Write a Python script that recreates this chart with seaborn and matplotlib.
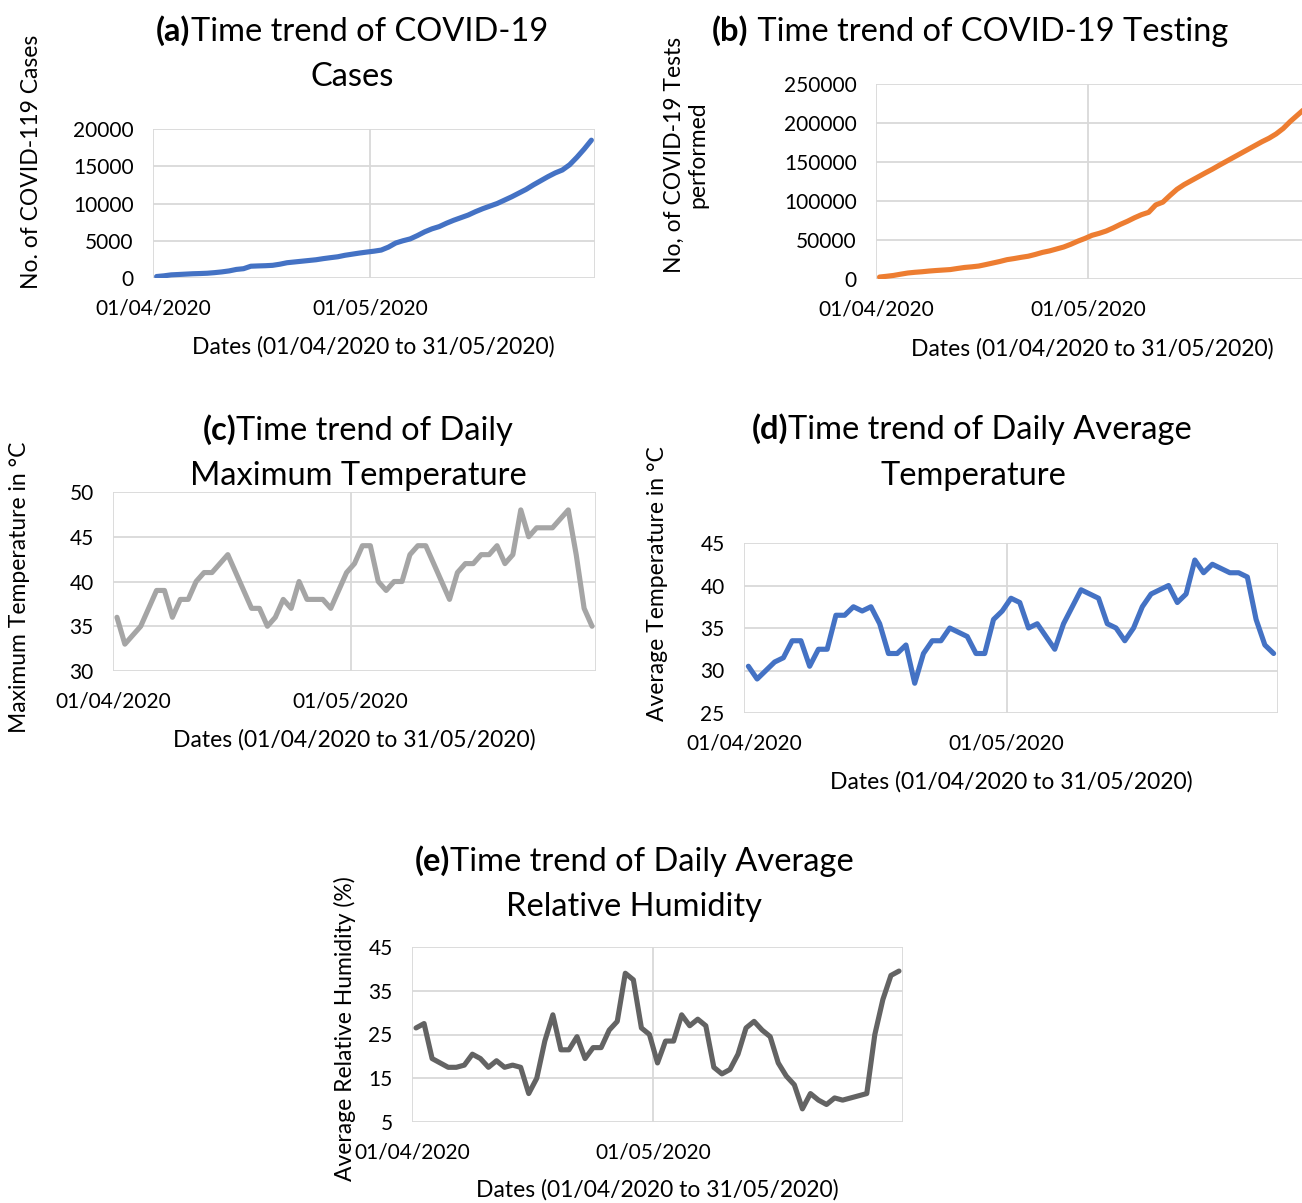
import matplotlib
matplotlib.use("Agg")
import matplotlib.pyplot as plt
import seaborn as sns
import pandas as pd

# one point per day, 01/04/2020 .. 31/05/2020 (Excel date axis puts each day mid-slot)
dates = pd.date_range("2020-04-01 12:00", periods=61, freq="D")

cases = [200, 290, 420, 470, 520, 570, 600, 640, 720, 820,
         950, 1150, 1250, 1580, 1620, 1650, 1700, 1850, 2050, 2150,
         2250, 2350, 2450, 2600, 2730, 2850, 3050, 3200, 3350, 3480,
         3600, 3750, 4150, 4700, 5000, 5250, 5700, 6200, 6600, 6900,
         7350, 7750, 8100, 8450, 8900, 9300, 9650, 10000, 10450, 10900,
         11400, 11900, 12500, 13050, 13600, 14100, 14500, 15200, 16200, 17300,
         18500]

tests = [2500, 3500, 4600, 6200, 7700, 8600, 9300, 10200, 10900, 11500,
         12100, 13500, 14800, 15600, 16600, 18500, 20500, 22500, 24800, 26200,
         27800, 29200, 31500, 34100, 36000, 38500, 41000, 44500, 48500, 52000,
         56000, 58500, 61500, 65500, 70000, 74000, 78500, 82500, 85500, 95000,
         98500, 107000, 115000, 121000, 126000, 131000, 136000, 140800, 146000, 151000,
         156000, 161000, 166000, 171000, 176000, 180500, 186000, 193000, 202000, 210000,
         218000]

max_temp = [36, 33, 34, 35, 37, 39, 39, 36, 38, 38,
            40, 41, 41, 42, 43, 41, 39, 37, 37, 35,
            36, 38, 37, 40, 38, 38, 38, 37, 39, 41,
            42, 44, 44, 40, 39, 40, 40, 43, 44, 44,
            42, 40, 38, 41, 42, 42, 43, 43, 44, 42,
            43, 48, 45, 46, 46, 46, 47, 48, 43, 37,
            35]

avg_temp = [30.5, 29, 30, 31, 31.5, 33.5, 33.5, 30.5, 32.5, 32.5,
            36.5, 36.5, 37.5, 37, 37.5, 35.5, 32, 32, 33, 28.5,
            32, 33.5, 33.5, 35, 34.5, 34, 32, 32, 36, 37,
            38.5, 38, 35, 35.5, 34, 32.5, 35.5, 37.5, 39.5, 39,
            38.5, 35.5, 35, 33.5, 35, 37.5, 39, 39.5, 40, 38,
            39, 43, 41.5, 42.5, 42, 41.5, 41.5, 41, 36, 33,
            32]

humidity = [26.5, 27.5, 19.5, 18.5, 17.5, 17.5, 18, 20.5, 19.5, 17.5,
            19, 17.5, 18, 17.5, 11.5, 15, 23.5, 29.5, 21.5, 21.5,
            24.5, 19.5, 22, 22, 26, 28, 39, 37.5, 26.5, 25,
            18.5, 23.5, 23.5, 29.5, 27, 28.5, 27, 17.5, 16, 17,
            20.5, 26.5, 28, 26, 24.5, 18.5, 15.5, 13.5, 8, 11.5,
            10, 9, 10.5, 10, 10.5, 11, 11.5, 25, 33, 38.5,
            39.5]

month_ticks = pd.to_datetime(["2020-04-01", "2020-05-01", "2020-06-01"])
month_labels = ["01/04/2020", "01/05/2020", ""]
xlabel = "Dates (01/04/2020 to 31/05/2020)"

W, H = 1302, 1203
TITLE_FS = 23.5
LABEL_FS = 16.5
TICK_FS = 15

sns.set_style("white")
plt.rcParams["font.family"] = ["Lato", "DejaVu Sans"]
plt.rcParams["text.color"] = "black"

fig = plt.figure(figsize=(W / 100, H / 100), dpi=100)
renderer = fig.canvas.get_renderer()


def fx(x):
    return x / W


def fy(y):
    return 1 - y / H


def draw_title(cx, base, bold, rest, size=TITLE_FS):
    tb = fig.text(0, 0, bold, fontsize=size, fontweight="bold", va="baseline", ha="left")
    tr = fig.text(0, 0, rest, fontsize=size, va="baseline", ha="left")
    wb = tb.get_window_extent(renderer).width
    wr = tr.get_window_extent(renderer).width
    x0 = cx - (wb + wr) / 2
    tb.set_position((fx(x0), fy(base)))
    tr.set_position((fx(x0 + wb), fy(base)))


def panel(box, values, color, yticks):
    left, top, right, bottom = box
    ax = fig.add_axes([fx(left), fy(bottom), (right - left) / W, (bottom - top) / H])
    df = pd.DataFrame({"date": dates, "value": values})
    sns.lineplot(data=df, x="date", y="value", color=color, lw=3.7, ax=ax,
                 solid_capstyle="round", solid_joinstyle="round")
    ax.set_xlim(month_ticks[0], month_ticks[-1])
    ax.set_ylim(yticks[0], yticks[-1])
    ax.set_yticks(yticks)
    ax.set_yticklabels([str(t) for t in yticks])
    ax.set_xticks(month_ticks)
    ax.set_xticklabels(month_labels)
    for s in ax.spines.values():
        s.set_visible(False)
    ax.grid(True, color="#d9d9d9", lw=1.3)
    ax.set_axisbelow(True)
    ax.tick_params(axis="y", length=0, pad=14, labelsize=TICK_FS, labelcolor="black")
    ax.tick_params(axis="x", length=5, width=1.3, color="#d9d9d9", pad=10,
                   labelsize=TICK_FS, labelcolor="black")
    ax.set_xlabel("")
    ax.set_ylabel("")
    return ax


def ylabel(x, y, text):
    fig.text(fx(x), fy(y), text, fontsize=LABEL_FS, rotation=90, ha="center", va="center",
             multialignment="center", linespacing=1.15)


def xlab(x, y):
    fig.text(fx(x), fy(y), xlabel, fontsize=LABEL_FS, ha="center", va="center")


# (a) cases
panel((153, 129, 595, 278), cases, "#4472C4", [0, 5000, 10000, 15000, 20000])
draw_title(352, 41, "(a)", "Time trend of COVID-19")
fig.text(fx(352), fy(86), "Cases", fontsize=TITLE_FS, ha="center", va="baseline")
ylabel(32, 162, "No. of COVID-119 Cases")
xlab(373, 347)

# (b) tests, plot area runs a little past the right edge as in the original
panel((876, 84, 1308, 279), tests, "#ED7D31", [0, 50000, 100000, 150000, 200000, 250000])
draw_title(970, 41, "(b)", " Time trend of COVID-19 Testing")
ylabel(686, 155, "No, of COVID-19 Tests\nperformed")
xlab(1092, 349)

# (c) max temperature
panel((113, 492, 596, 671), max_temp, "#A5A5A5", [30, 35, 40, 45, 50])
draw_title(358, 440, "(c)", "Time trend of Daily")
fig.text(fx(358), fy(485), "Maximum Temperature", fontsize=TITLE_FS, ha="center", va="baseline")
ylabel(20, 587, "Maximum Temperature in °C")
xlab(354, 740)

# (d) average temperature
panel((744, 543, 1278, 713), avg_temp, "#4472C4", [25, 30, 35, 40, 45])
draw_title(972, 439, "(d)", "Time trend of Daily Average")
fig.text(fx(973), fy(485), "Temperature", fontsize=TITLE_FS, ha="center", va="baseline")
ylabel(657, 584, "Average Temperature in °C")
xlab(1011, 782)

# (e) relative humidity
panel((412, 947, 903, 1122), humidity, "#636363", [5, 15, 25, 35, 45])
draw_title(634, 871, "(e)", "Time trend of Daily Average")
fig.text(fx(634), fy(916), "Relative Humidity", fontsize=TITLE_FS, ha="center", va="baseline")
ylabel(345, 1029, "Average Relative Humidity (%)")
xlab(657, 1190)

fig.savefig("out.png", dpi=100)
